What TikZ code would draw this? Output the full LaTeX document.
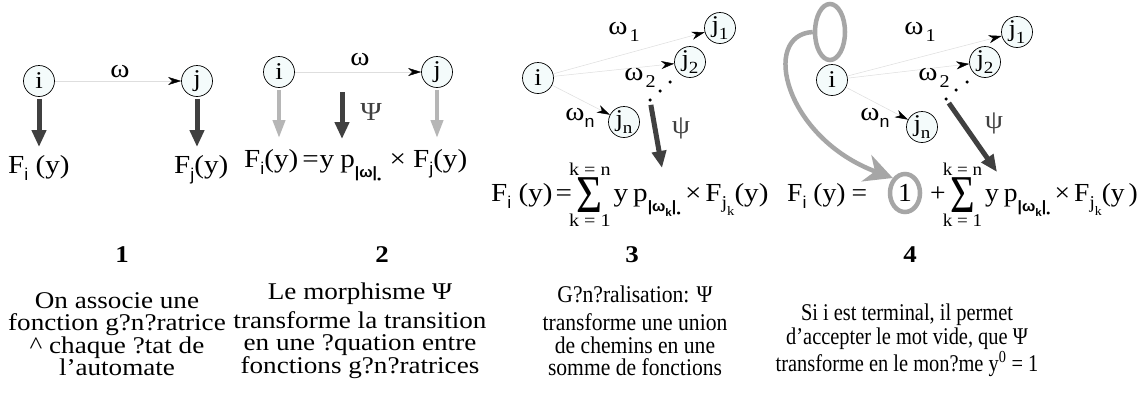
\documentclass[tikz,border=0pt]{standalone}
\usepackage{fontspec}
\usepackage{graphicx}
\setmainfont{Liberation Serif}[FakeStretch=1.12]
\newfontfamily\wideF{Liberation Serif}[FakeStretch=1.13]
\newfontfamily\midF{Liberation Serif}[FakeStretch=0.9]
\newfontfamily\narrowF{Liberation Serif}[FakeStretch=0.85]
\newfontfamily\eqnarrow{Liberation Serif}[FakeStretch=1.06]
\newfontfamily\subsans{Liberation Sans}[FakeStretch=1.05]
\usetikzlibrary{arrows.meta,shapes.geometric}
\definecolor{arrdark}{RGB}{64,64,64}
\definecolor{arrlight}{RGB}{182,182,182}
\definecolor{loopgray}{RGB}{166,166,166}
\definecolor{transgray}{RGB}{222,222,222}
\definecolor{statefill}{RGB}{244,251,251}
\newcommand\eqsize{\fontsize{26}{28}\selectfont}
\newcommand\sbs[1]{\raisebox{-0.28em}{\fontsize{17}{17}\selectfont #1}}
\newcommand\Fs[1]{F\sbs{\subsans #1}}
\newcommand\Fjk{F\raisebox{-0.3em}{\fontsize{18}{18}\selectfont j\raisebox{-0.35em}{\fontsize{13}{13}\selectfont k}}}
\newcommand\pw[1]{p\raisebox{-0.42em}{\fontsize{15}{15}\selectfont\subsans\bfseries |#1|}\raisebox{-0.62em}{\fontsize{12}{12}\selectfont •}}
\newcommand\wk{ω\raisebox{-0.3em}{\fontsize{11}{11}\selectfont\bfseries k}}
\newcommand\wsub[1]{ω\raisebox{-0.3em}{\fontsize{18}{18}\selectfont\kern2pt #1}}
\newcommand\jsub[1]{j\raisebox{-0.3em}{\fontsize{17}{17}\selectfont #1}}
\newcommand\limsz{\fontsize{18}{18}\selectfont}
\newcommand\bigsum{\mbox{$\displaystyle\mathop{\mbox{\raisebox{-11pt}{\scalebox{1.05}[1.4]{\fontsize{38}{38}\selectfont Σ}}}}\limits^{\mbox{\limsz k = n}}_{\mbox{\limsz k = 1}}$}}
\begin{document}
\begin{tikzpicture}[x=1pt,y=-1pt,
  state/.style={circle, draw=black, line width=0.7pt, fill=statefill, minimum size=31pt, inner sep=0pt, font=\fontsize{24}{24}\selectfont},
  trans/.style={draw=transgray, line width=0.5pt, -{Stealth[black,length=13pt,width=8pt,inset=4pt]}},
  darkarrow/.style={draw=arrdark, line width=5pt, -{Triangle[length=17pt,width=14pt]}},
  lightarrow/.style={draw=arrlight, line width=4pt, -{Triangle[length=18pt,width=12pt]}},
  loopline/.style={draw=loopgray, line width=4.5pt},
  eq/.style={font=\eqsize, inner sep=0pt},
  lbl/.style={font=\eqsize, inner sep=0pt},
  psil/.style={font=\fontsize{26}{26}\selectfont, text=arrdark, inner sep=0pt},
  dotn/.style={circle, fill=black, inner sep=0pt, minimum size=3.5pt},
  numf/.style={font=\fontsize{24}{24}\selectfont\bfseries, inner sep=0pt},
  txtw/.style={font=\wideF\fontsize{24}{22.5}\selectfont, align=center, inner sep=0pt},
  txtn/.style={font=\midF\fontsize{24}{22.5}\selectfont, align=center, inner sep=0pt},
  txtb/.style={font=\narrowF\fontsize{24}{24.5}\selectfont, align=center, inner sep=0pt}]
\useasboundingbox[fill=white] (0,0) rectangle (1145,397);

% ---------- Panel 1
\node[state] (i1) at (39,81) {i};
\node[state] (j1) at (197,81) {j};
\draw[trans] (i1) -- (j1);
\node[lbl] (w1) at (120,72) {ω};
\node[eq,anchor=base west] (Fi1) at (8,173) {\Fs{i} (y)};
\node[eq,anchor=base west] (Fj1) at (174,173) {\Fs{j}(y)};
\draw[darkarrow,shorten <=2pt] (i1) -- (i1 |- 0,147);
\draw[darkarrow,shorten <=2pt] (j1) -- (j1 |- 0,147);

% ---------- Panel 2
\node[state] (i2) at (279,72) {i};
\node[state] (j2) at (437,72) {j};
\draw[trans] (i2) -- (j2);
\node[lbl] (w2) at (360,60) {ω};
\node[eq,anchor=base west] (E2) at (244,167) {\Fs{i}(y)\kern4pt=\kern1pt y\kern6pt\pw{ω}\kern8pt×\kern7pt\Fs{j}(y)};
\coordinate (f2i) at (279,138);
\coordinate (f2j) at (437,138);
\coordinate (a2s) at (342,92);
\coordinate (a2e) at (342,139);
\draw[lightarrow,shorten <=2pt] (i2) -- (f2i);
\draw[lightarrow,shorten <=2pt] (j2) -- (f2j);
\draw[darkarrow] (a2s) -- (a2e);
\node[psil] (psi2) at (371,112) {Ψ};

% ---------- Panel 3
\node[state] (i3) at (538,78) {i};
\node[state] (j31) at (720,28) {\jsub{1}};
\node[state] (j32) at (690,62) {\jsub{2}};
\node[state] (j3n) at (624,122) {\jsub{n}};
\draw[trans] (i3) -- (j31);
\draw[trans] (i3) -- (j32);
\draw[trans] (i3) -- (j3n);
\node[lbl] (w31) at (624,32) {\wsub{1}};
\node[lbl] (w32) at (640,78) {\wsub{2}};
\node[lbl] (w3n) at (580,118) {ω\sbs{\subsans n}};
\node[dotn] (d3a) at (670,82) {};
\node[dotn] (d3b) at (660,91) {};
\node[dotn] (d3c) at (650,100) {};
\coordinate (a3e) at (662,168);
\draw[darkarrow,shorten <=3pt] (d3c) -- (a3e);
\node[psil] (psi3) at (681,128) {ψ};
\node[eq,anchor=base west] (E3) at (491,201) {\Fs{i} (y)\kern3pt=\kern-3pt\bigsum\kern3pt y\kern5pt\pw{\wk}\kern4pt×\kern4pt\Fjk(y)};

% ---------- Panel 4
\node[ellipse, loopline, minimum width=30pt, minimum height=56pt, inner sep=0pt] (loop) at (830,32) {};
\node[state] (i4) at (832,80) {i};
\node[state] (j41) at (1017,32) {\jsub{1}};
\node[state] (j42) at (985,62) {\jsub{2}};
\node[state] (j4n) at (922,127) {\jsub{n}};
\draw[trans] (i4) -- (j41);
\draw[trans] (i4) -- (j42);
\draw[trans] (i4) -- (j4n);
\node[lbl] (w41) at (920,32) {\wsub{1}};
\node[lbl] (w42) at (934,78) {\wsub{2}};
\node[lbl] (w4n) at (875,118) {ω\sbs{\subsans n}};
\node[dotn] (d4a) at (967,82) {};
\node[dotn] (d4b) at (956,90) {};
\node[dotn] (d4c) at (946,99) {};
\coordinate (a4e) at (997,172);
\draw[darkarrow,shorten <=3pt] (d4c) -- (a4e);
\node[psil] (psi4) at (994,123) {ψ};
\node[eq,font=\eqnarrow\eqsize,anchor=base west] (E4a) at (787,201) {\Fs{i} (y)\kern6pt=};
\node[ellipse, loopline, minimum width=30pt, minimum height=38pt, inner sep=0pt, font=\eqnarrow\eqsize] (one) at (905,193) {1};
\node[eq,font=\eqnarrow\eqsize,anchor=base west] (E4b) at (930,201) {+\kern-3pt\bigsum\kern3pt y\kern5pt\pw{\wk}\kern4pt×\kern4pt\Fjk(y\kern4pt)};
\draw[loopline, -{Stealth[length=28pt,width=28pt,inset=9pt]}] (loop.west) .. controls (760,35) and (785,138) .. (one.north west);

% ---------- Numbers and captions
\node[numf] (n1) at (122,255) {1};
\node[numf] (n2) at (382,255) {2};
\node[numf] (n3) at (632,255) {3};
\node[numf] (n4) at (910,255) {4};
\node[txtw] (t1) at (117,334) {On associe une\\fonction g?n?ratrice\\\textasciicircum{} chaque ?tat de\\l’automate};
\node[txtw] (t2) at (360,331) {Le morphisme Ψ\\[6pt]transforme la transition\\en une ?quation entre\\fonctions g?n?ratrices};
\node[txtn] (t3) at (635,331) {G?n?ralisation: Ψ\\[6pt]transforme une union\\de chemins en une\\somme de fonctions};
\node[txtb] (t4) at (907,340) {Si i est terminal, il permet\\d’accepter le mot vide, que Ψ\\transforme en le mon?me y\textsuperscript{0} = 1};
\end{tikzpicture}
\end{document}
